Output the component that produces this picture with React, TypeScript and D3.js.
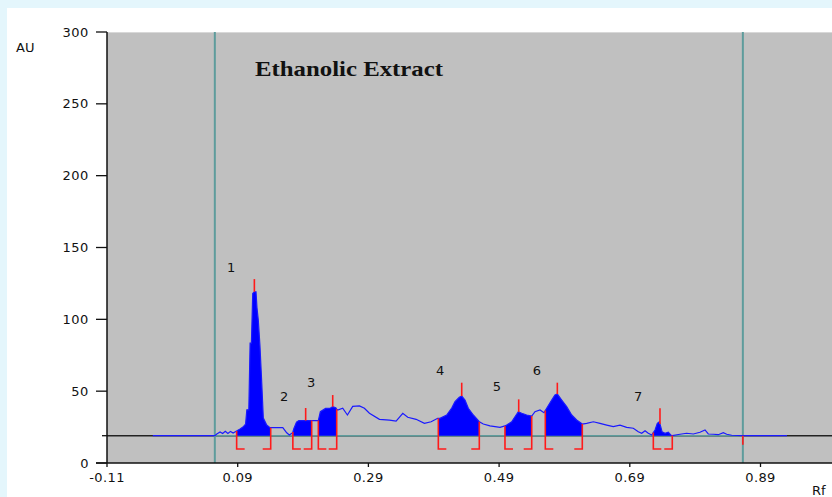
import React from "react";
import * as d3 from "d3";

const W = 832, H = 497;
const yTicks = [0, 50, 100, 150, 200, 250, 300];
const xTicks = [-0.11, 0.09, 0.29, 0.49, 0.69, 0.89];
const xTickLabels = ["-0.11", "0.09", "0.29", "0.49", "0.69", "0.89"];
const baselineAU = 19;
const frontLines = [0.055, 0.863];

// densitometric trace: [Rf, AU]
const traceRf = [
  -0.04, 0.055, 0.058, 0.063, 0.067, 0.071, 0.075, 0.079, 0.083, 0.089,
  0.093, 0.098, 0.102, 0.104, 0.107, 0.109, 0.111, 0.113, 0.1155, 0.118, 0.1195, 0.1215, 0.124, 0.1267, 0.1292, 0.1344, 0.1394,
  0.159, 0.165, 0.169, 0.174, 0.176, 0.18, 0.1836, 0.2032, 0.21, 0.2134, 0.2165, 0.2245, 0.232, 0.2354, 0.24, 0.2415,
  0.2431, 0.2507, 0.2579, 0.266, 0.2763, 0.2839, 0.2916, 0.3069, 0.3222, 0.3324, 0.3426, 0.3502, 0.363, 0.3757, 0.386, 0.396,
  0.3996, 0.4098, 0.4175, 0.4225, 0.4291, 0.4328, 0.4378, 0.4429, 0.4505, 0.4597,
  0.4658, 0.476, 0.4914, 0.499, 0.5016, 0.5093, 0.5143, 0.5194, 0.5246, 0.5322, 0.5399,
  0.5449, 0.5526, 0.5587, 0.5628, 0.5705, 0.5755, 0.5791, 0.5858, 0.5934, 0.6011, 0.6087, 0.6173,
  0.624, 0.6342, 0.6444, 0.6547, 0.6647, 0.675, 0.6852, 0.6954, 0.703, 0.7082, 0.7133, 0.7183, 0.7235,
  0.7286, 0.7321, 0.7352, 0.7373, 0.7393, 0.7439, 0.7489, 0.7526, 0.755,
  0.7668, 0.777, 0.7872, 0.7974, 0.8051, 0.8101, 0.8178, 0.8254, 0.8331, 0.8383, 0.8459, 0.8636, 0.9305,
];
const traceAU = [
  19, 19, 20.2, 21.6, 20.5, 22, 20.5, 22, 20.8, 22.5,
  23.5, 25, 27, 37, 37, 83.5, 83.5, 118, 119.2, 119.2, 108, 99.5, 82, 56.6, 31.3, 26.4, 24.6,
  24.6, 21, 19.5, 21, 24, 28.5, 29.5, 29.5, 29.5, 29.5, 35.7, 38, 38.3, 39.2, 38.5, 37.5,
  36.9, 38.1, 33.4, 39.4, 39.7, 38.1, 34.6, 30.4, 29.9, 29.2, 34.6, 31.8, 30.4, 27.6, 28.7, 31.1,
  31.1, 33.4, 38.3, 42.7, 45.7, 46.6, 43.8, 38.1, 33.4, 28.7,
  27.1, 25.8, 24.8, 25.8, 26.4, 28.7, 32.2, 35.7, 34.6, 33.4, 32.7,
  35.7, 36.9, 35, 38.1, 43.8, 47.3, 48, 43.8, 39.2, 33.4, 29.9, 27.1,
  27.6, 28.7, 27.6, 26.4, 25.3, 26.4, 24.8, 24.2, 21.8, 20.7, 22.5, 20.7, 19.5,
  23, 27.6, 28.7, 25.3, 21.8, 20.7, 21.4, 19.5, 19.1,
  20, 20.7, 20.2, 21.4, 23, 20.2, 20, 19.7, 21.1, 20, 19.3, 19.1, 19,
];

// integrated peaks
const peakNames = ["1", "2", "3", "4", "5", "6", "7"];
const peakStart = [0.0884, 0.1744, 0.2134, 0.397, 0.499, 0.5607, 0.726];
const peakEnd = [0.1405, 0.2032, 0.2415, 0.4597, 0.5399, 0.6173, 0.755];
const peakMax = [0.1155, 0.194, 0.2354, 0.4328, 0.52, 0.5791, 0.7362];
const peakTickTop = [128, 38.3, 47.3, 55.9, 44.3, 55.9, 38.1];
const labelRf = [0.0798, 0.161, 0.2022, 0.3996, 0.4868, 0.548, 0.7026];
const labelAU = [136.4, 46.6, 56.4, 64.7, 53.6, 64.7, 46.6];

const left = 107, top = 32, bottom = 463, right = 832;
const x = d3.scaleLinear().domain([-0.11, 0.99]).range([left, left + 1.1 * 653.5]);
const y = d3.scaleLinear().domain([0, 300]).range([bottom, top]);

const pts: [number, number][] = traceRf.map((r, i) => [r, traceAU[i]]);
function interp(r: number) {
  for (let i = 0; i < pts.length - 1; i++) {
    if (r >= pts[i][0] && r <= pts[i + 1][0]) {
      const t = (r - pts[i][0]) / (pts[i + 1][0] - pts[i][0] || 1);
      return pts[i][1] + t * (pts[i + 1][1] - pts[i][1]);
    }
  }
  return baselineAU;
}

export default function App() {
  const line = d3.line<[number, number]>().x(d => x(d[0])).y(d => y(d[1]));
  const area = d3.area<[number, number]>().x(d => x(d[0])).y0(y(baselineAU)).y1(d => y(d[1]));
  const font = "'DejaVu Sans', Verdana, sans-serif";
  const red = "#ff1a1a";
  const teal = "#5e9c9c";
  const footAU = (bottom - 449) / (bottom - top) * 300;
  return (
    <div style={{ position: "fixed", left: 0, top: 0, width: W, height: H }}>
      <svg width={W} height={H} style={{ display: "block" }}>
        <defs>
          <clipPath id="plot"><rect x={left} y={top} width={right - left} height={bottom - top} /></clipPath>
        </defs>
        <rect x={0} y={0} width={W} height={H} fill="#e4f6fc" />
        <rect x={7} y={8} width={W - 7} height={H - 8} fill="#ffffff" />
        <rect x={left} y={top} width={right - left} height={bottom - top} fill="#c0c0c0" />
        <line x1={left} x2={right} y1={top + 0.5} y2={top + 0.5} stroke="#d8d8d8" />
        <g clipPath="url(#plot)">
          <line x1={left} x2={right} y1={y(baselineAU)} y2={y(baselineAU)} stroke="#222" strokeWidth={1.5} />
          <line x1={x(frontLines[0])} x2={x(frontLines[1])} y1={y(baselineAU)} y2={y(baselineAU)} stroke={teal} strokeWidth={1.5} />
          {frontLines.map((f, i) => (
            <line key={i} x1={x(f)} x2={x(f)} y1={top} y2={bottom} stroke={teal} strokeWidth={2} />
          ))}
          {peakStart.map((s, i) => {
            const seg: [number, number][] = [[s, interp(s)], ...pts.filter(p => p[0] > s && p[0] < peakEnd[i]), [peakEnd[i], interp(peakEnd[i])]];
            return <path key={i} d={area(seg) || ""} fill="#0000ff" />;
          })}
          <path d={line(pts) || ""} fill="none" stroke="#1a1aff" strokeWidth={1.2} />
          {peakStart.map((s, i) => {
            const e = peakEnd[i];
            const yb = y(footAU);
            return (
              <g key={i} stroke={red} strokeWidth={1.6} fill="none">
                <polyline points={`${x(s)},${y(interp(s))} ${x(s)},${yb} ${x(s) + 8},${yb}`} />
                <polyline points={`${x(e)},${y(interp(e))} ${x(e)},${yb} ${x(e) - 8},${yb}`} />
                <line x1={x(peakMax[i])} x2={x(peakMax[i])} y1={y(interp(peakMax[i]))} y2={y(peakTickTop[i])} />
              </g>
            );
          })}
          <line x1={x(frontLines[1])} x2={x(frontLines[1])} y1={y(baselineAU)} y2={y(baselineAU) + 9} stroke={red} strokeWidth={1.6} />
          {peakNames.map((n, i) => (
            <text key={n} x={x(labelRf[i])} y={y(labelAU[i]) + 5} fontFamily={font} fontSize={13} fill="#111" textAnchor="middle">{n}</text>
          ))}
        </g>
        <text x={255} y={76} fontFamily="'Liberation Serif', 'Times New Roman', serif" fontWeight="bold" fontSize={21} textLength={188} lengthAdjust="spacingAndGlyphs" fill="#111">Ethanolic Extract</text>
        {/* axes */}
        <line x1={left} x2={left} y1={top} y2={bottom} stroke="#111" strokeWidth={1.5} />
        <line x1={left - 11} x2={right} y1={bottom} y2={bottom} stroke="#111" strokeWidth={1.5} />
        {yTicks.map(t => (
          <g key={t}>
            <line x1={left - 11} x2={left} y1={y(t)} y2={y(t)} stroke="#111" strokeWidth={1.3} />
            <text x={89} y={y(t) + 4.5} fontFamily={font} fontSize={13} letterSpacing={0.6} fill="#111" textAnchor="end">{t}</text>
          </g>
        ))}
        <line x1={left - 5} x2={left} y1={y(baselineAU)} y2={y(baselineAU)} stroke="#111" strokeWidth={1.3} />
        {xTicks.map((t, i) => (
          <g key={t}>
            <line x1={x(t)} x2={x(t)} y1={bottom} y2={bottom + 4} stroke="#111" strokeWidth={1.3} />
            <text x={x(t)} y={482} fontFamily={font} fontSize={13} letterSpacing={0.4} fill="#111" textAnchor="middle">{xTickLabels[i]}</text>
          </g>
        ))}
        <text x={16} y={52} fontFamily={font} fontSize={13} fill="#111">AU</text>
        <text x={812} y={495} fontFamily={font} fontSize={13} fill="#111">Rf</text>
      </svg>
    </div>
  );
}
